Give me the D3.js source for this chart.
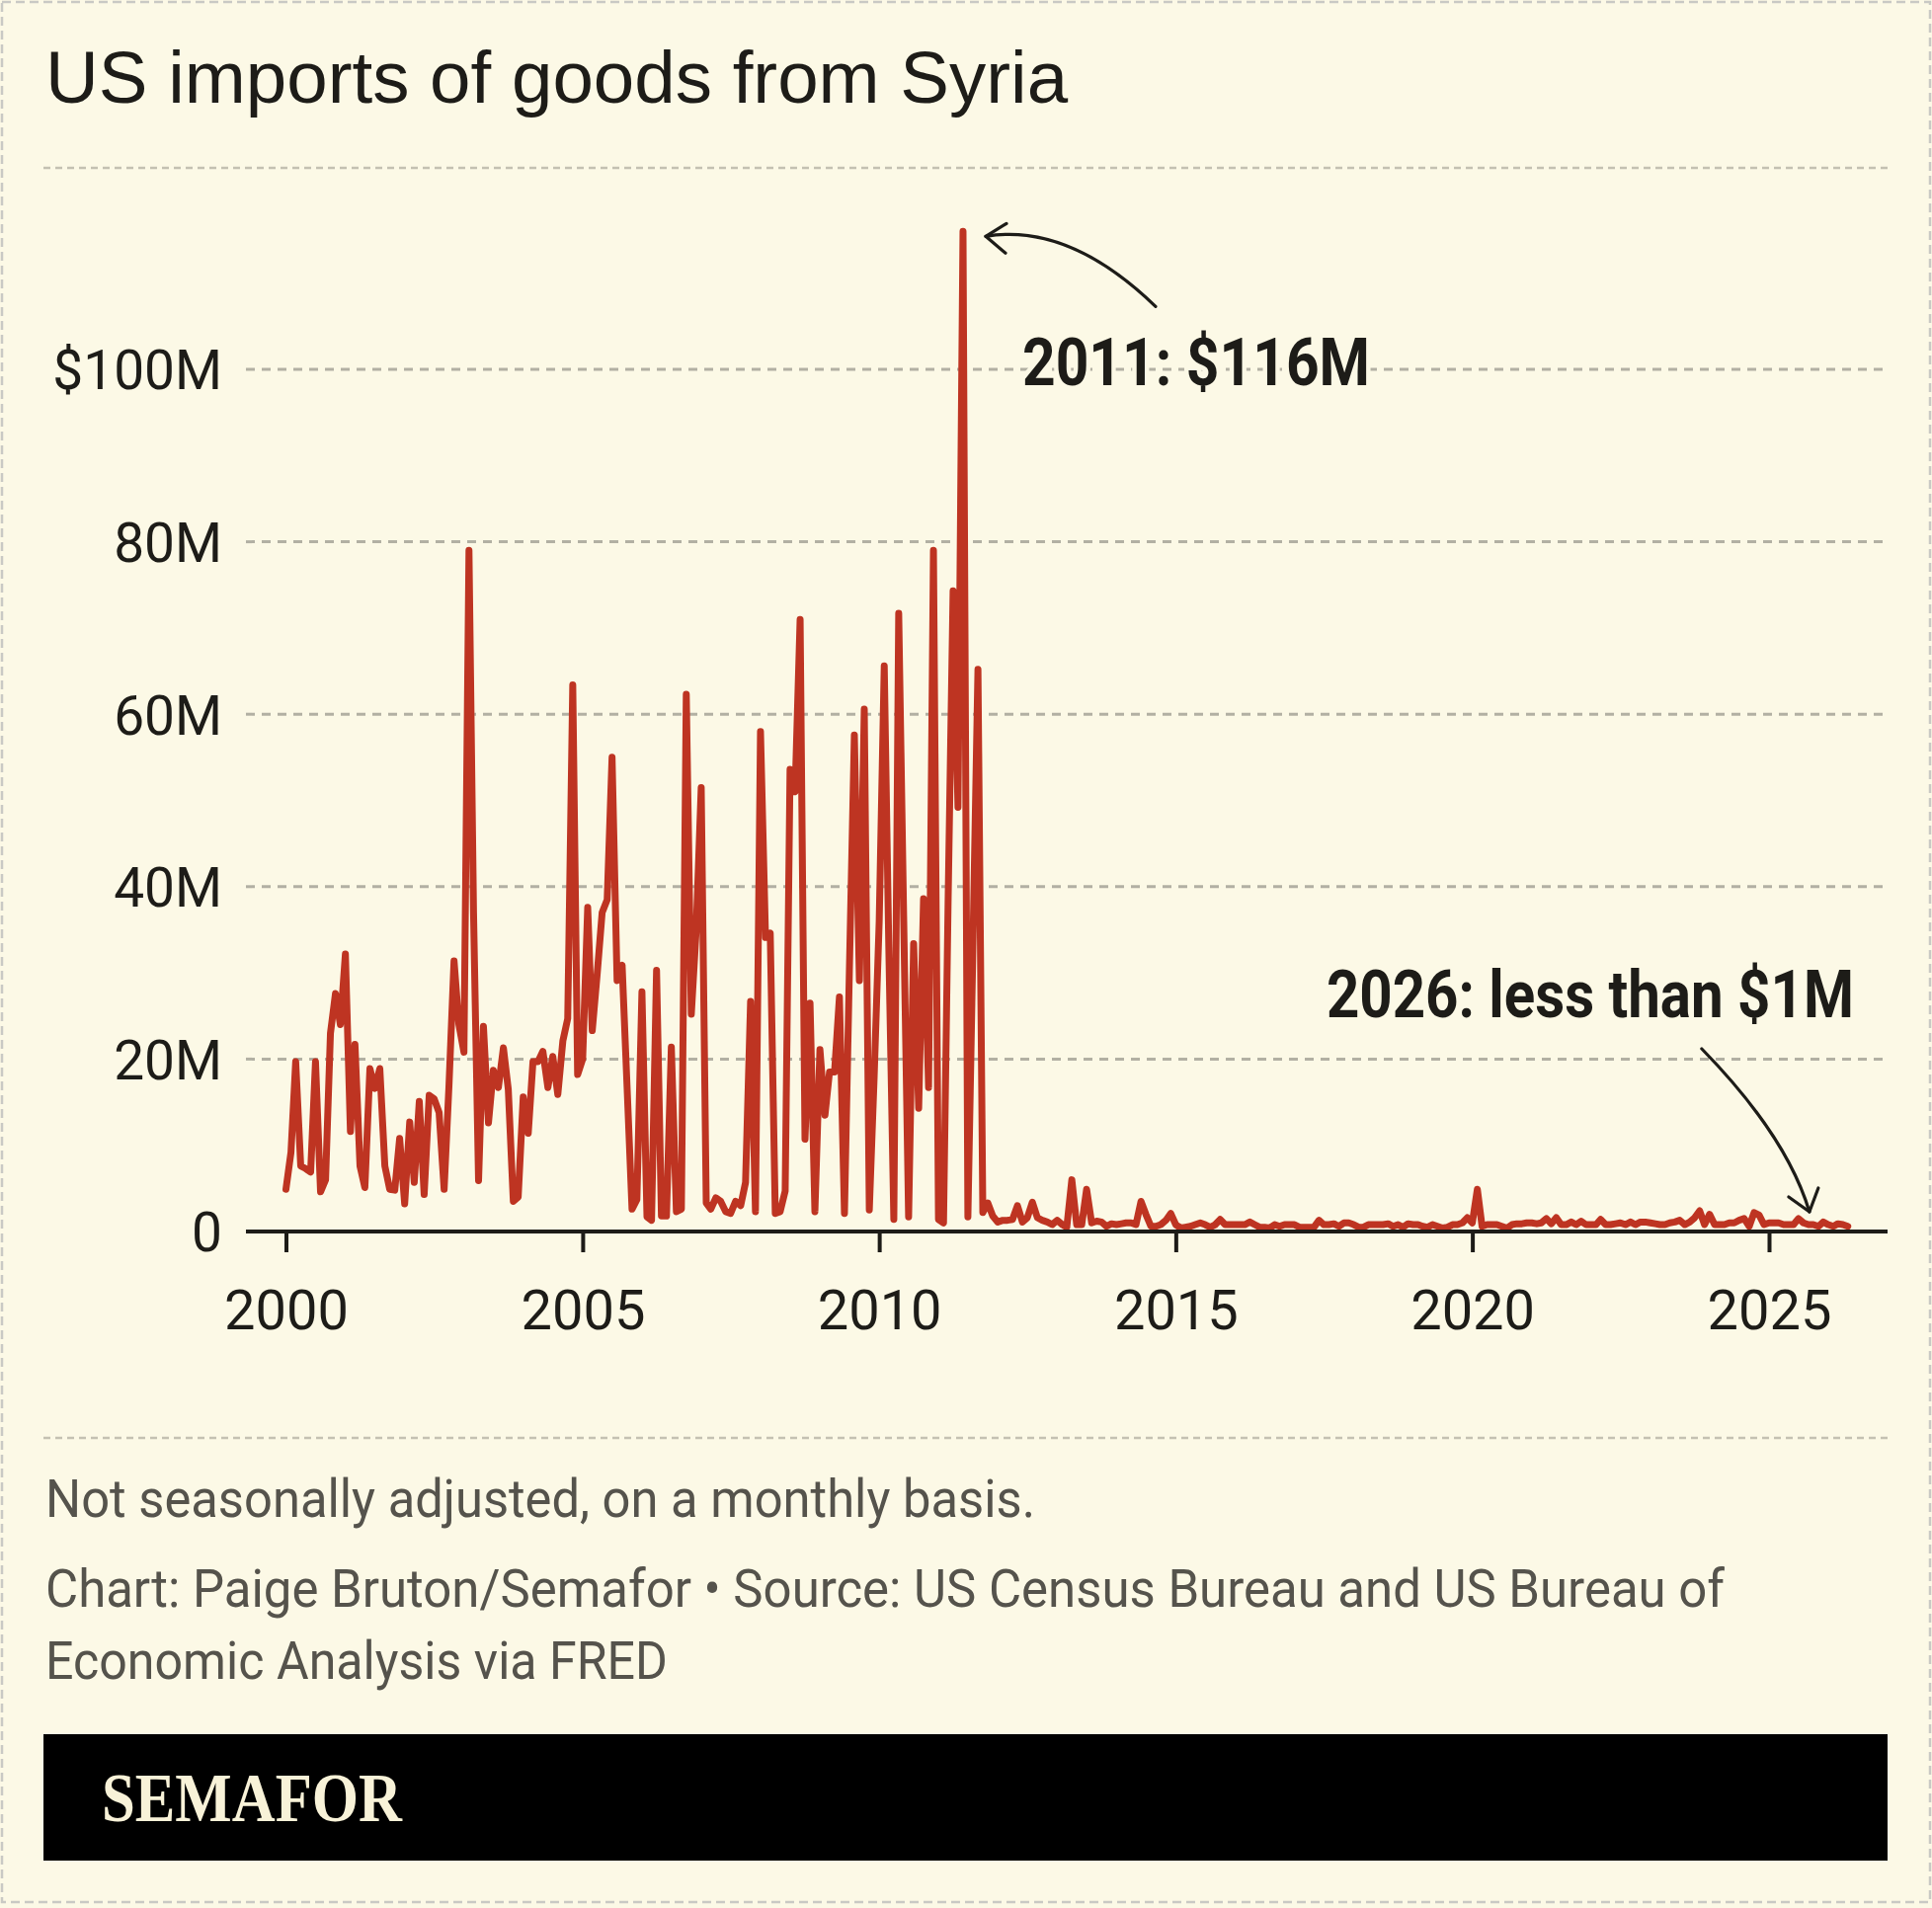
<!DOCTYPE html>
<html>
<head>
<meta charset="utf-8">
<script src="https://cdn.jsdelivr.net/npm/d3@7"></script>
<style>
  html, body { margin: 0; padding: 0; background: #fcf9e6; }
  svg { display: block; }
</style>
</head>
<body>
<div id="chart"></div>
<script>
// US imports of goods from Syria, millions of dollars, one value per month from Jan 2000
const firstMonth = new Date(2000, 0, 1)
const monthlyImports = [
  4.9, 9.2, 19.7, 7.6, 7.3, 6.9, 19.7, 4.6, 6.0, 23.0, 27.6, 24.0,      // 2000
  32.2, 11.6, 21.7, 7.6, 5.1, 18.9, 16.6, 18.9, 7.6, 4.9, 4.8, 10.8,    // 2001
  3.2, 12.7, 5.7, 15.1, 4.3, 15.8, 15.4, 13.8, 4.9, 17.0, 31.4, 24.0,   // 2002
  20.8, 79.0, 37.0, 5.9, 23.8, 12.6, 18.7, 16.7, 21.3, 16.5, 3.5, 4.0,  // 2003
  15.6, 11.4, 19.7, 19.7, 20.9, 16.7, 20.3, 15.9, 22.1, 24.7, 63.4, 18.2, // 2004
  20.0, 37.6, 23.3, 30.0, 37.0, 38.5, 55.0, 29.1, 30.9, 17.0, 2.6, 3.7, // 2005
  27.8, 1.7, 1.3, 30.3, 1.8, 1.8, 21.4, 2.3, 2.6, 62.3, 25.2, 35.0,     // 2006
  51.5, 3.3, 2.6, 3.9, 3.5, 2.3, 2.1, 3.5, 3.0, 5.7, 26.7, 2.3,         // 2007
  58.0, 34.1, 34.6, 2.1, 2.3, 4.7, 53.6, 51.0, 71.0, 10.7, 26.5, 2.3,   // 2008
  21.1, 13.5, 18.5, 18.5, 27.2, 2.1, 30.0, 57.6, 29.1, 60.6, 2.5, 18.0, // 2009
  36.0, 65.6, 33.0, 1.4, 71.7, 36.0, 1.7, 33.4, 14.3, 38.6, 16.7, 79.0, // 2010
  1.4, 1.0, 38.0, 74.3, 49.2, 116.0, 1.7, 33.0, 65.2, 2.2, 3.3, 1.8,    // 2011
  1.1, 1.3, 1.3, 1.4, 3.0, 1.1, 1.6, 3.4, 1.6, 1.3, 1.1, 0.8,           // 2012
  1.3, 0.8, 0.5, 6.0, 0.8, 0.8, 4.9, 1.0, 1.2, 1.1, 0.6, 0.9,           // 2013
  0.8, 0.9, 1.0, 1.0, 0.8, 3.5, 2.0, 0.6, 0.6, 0.8, 1.3, 2.1,           // 2014
  0.8, 0.4, 0.5, 0.6, 0.8, 1.0, 0.8, 0.5, 0.8, 1.4, 0.8, 0.8,           // 2015
  0.8, 0.8, 0.8, 1.1, 0.8, 0.5, 0.5, 0.4, 0.8, 0.6, 0.8, 0.8,           // 2016
  0.8, 0.5, 0.5, 0.5, 0.5, 1.3, 0.8, 0.8, 0.9, 0.6, 1.0, 1.0,           // 2017
  0.8, 0.5, 0.5, 0.8, 0.8, 0.8, 0.8, 0.9, 0.6, 0.8, 0.5, 0.9,           // 2018
  0.8, 0.8, 0.6, 0.5, 0.8, 0.6, 0.4, 0.5, 0.8, 0.8, 1.0, 1.6,           // 2019
  1.0, 4.9, 0.6, 0.8, 0.8, 0.8, 0.6, 0.4, 0.8, 0.9, 0.9, 1.0,           // 2020
  1.0, 0.9, 1.0, 1.5, 0.9, 1.6, 0.8, 0.8, 1.1, 0.8, 1.2, 0.8,           // 2021
  0.8, 0.8, 1.4, 0.8, 0.8, 0.9, 1.0, 0.8, 1.1, 0.8, 1.1, 1.1,           // 2022
  1.0, 0.9, 0.8, 0.8, 1.0, 1.1, 1.3, 0.8, 1.1, 1.6, 2.4, 0.8,           // 2023
  2.0, 0.8, 0.8, 0.8, 1.0, 1.0, 1.3, 1.5, 0.6, 2.2, 1.9, 0.8,           // 2024
  1.0, 1.0, 1.0, 0.8, 0.8, 0.8, 1.5, 1.0, 0.8, 0.8, 0.6, 1.1,           // 2025
  0.8, 0.6, 0.9, 0.8, 0.6                                               // 2026
]

const xTickYears = [2000, 2005, 2010, 2015, 2020, 2025]
const yTickValues = [0, 20, 40, 60, 80, 100]
const yTickLabels = ["0", "20M", "40M", "60M", "80M", "$100M"]

const titleText = "US imports of goods from Syria"
const noteText = "Not seasonally adjusted, on a monthly basis."
const sourceLines = [
  "Chart: Paige Bruton/Semafor \u2022 Source: US Census Bureau and US Bureau of",
  "Economic Analysis via FRED"
]
const peakLabel = "2011: $116M"
const latestLabel = "2026: less than $1M"

const width = 1956
const height = 1932
const bg = "#fcf9e6"
const ink = "#1d1c18"
const red = "#be3422"
const gridColor = "#b2b0a3"
const plotLeft = 249
const plotRight = 1911

const data = monthlyImports.map((v, i) => ({ date: d3.timeMonth.offset(firstMonth, i), value: v }))

const svg = d3.select("#chart")
  .append("svg")
  .attr("width", width)
  .attr("height", height)

svg.append("rect")
  .attr("width", width)
  .attr("height", height)
  .attr("fill", bg)

// dashed outer frame
svg.append("rect")
  .attr("x", 2)
  .attr("y", 2)
  .attr("width", width - 4)
  .attr("height", height - 8)
  .attr("fill", "none")
  .attr("stroke", "#c9c9c4")
  .attr("stroke-width", 2.5)
  .attr("stroke-dasharray", "9,5")

svg.append("text")
  .attr("x", 46)
  .attr("y", 104)
  .attr("font-family", "Liberation Sans, Arial, sans-serif")
  .attr("font-size", 74.5)
  .attr("fill", ink)
  .text(titleText)

// dashed separators above and below the chart
svg.selectAll("line.sep")
  .data([170, 1456])
  .enter()
  .append("line")
  .attr("class", "sep")
  .attr("x1", 44)
  .attr("x2", plotRight)
  .attr("y1", d => d)
  .attr("y2", d => d)
  .attr("stroke", "#c4c1b2")
  .attr("stroke-width", 2.5)
  .attr("stroke-dasharray", "7,5")

const x = d3.scaleTime()
  .domain([new Date(2000, 0, 1), new Date(2025, 0, 1)])
  .range([289.5, 1791])

const y = d3.scaleLinear()
  .domain([0, 100])
  .range([1247, 374])

// gridlines
svg.selectAll("line.grid")
  .data(yTickValues.filter(d => d > 0))
  .enter()
  .append("line")
  .attr("class", "grid")
  .attr("x1", plotLeft)
  .attr("x2", plotRight)
  .attr("y1", d => y(d))
  .attr("y2", d => y(d))
  .attr("stroke", gridColor)
  .attr("stroke-width", 3)
  .attr("stroke-dasharray", "9,7")

// y axis labels
const yAxis = svg.append("g")
  .attr("transform", `translate(${plotLeft},0)`)
  .call(d3.axisLeft(y)
    .tickValues(yTickValues)
    .tickSize(0)
    .tickPadding(24)
    .tickFormat((d, i) => yTickLabels[i]))
yAxis.select(".domain").remove()
yAxis.selectAll("text")
  .attr("font-family", "Roboto, sans-serif")
  .attr("font-size", 55)
  .attr("fill", ink)
  .attr("dy", "0.36em")

// data line
svg.append("path")
  .datum(data)
  .attr("fill", "none")
  .attr("stroke", red)
  .attr("stroke-width", 7)
  .attr("stroke-linejoin", "round")
  .attr("stroke-linecap", "round")
  .attr("d", d3.line().x(d => x(d.date)).y(d => y(d.value)))

// x axis
const xAxis = svg.append("g")
  .attr("transform", `translate(0,${y(0)})`)
  .call(d3.axisBottom(x)
    .tickValues(xTickYears.map(yr => new Date(yr, 0, 1)))
    .tickSize(21)
    .tickPadding(38)
    .tickFormat(d3.timeFormat("%Y")))
xAxis.select(".domain").remove()
xAxis.selectAll(".tick line")
  .attr("stroke", ink)
  .attr("stroke-width", 4)
xAxis.selectAll("text")
  .attr("font-family", "Roboto, sans-serif")
  .attr("font-size", 56)
  .attr("fill", ink)
  .attr("dy", "0.72em")
svg.append("line")
  .attr("x1", plotLeft)
  .attr("x2", plotRight)
  .attr("y1", y(0))
  .attr("y2", y(0))
  .attr("stroke", ink)
  .attr("stroke-width", 4)

// annotations, placed relative to the points they describe
const peak = data.reduce((a, b) => (b.value > a.value ? b : a))
const px = x(peak.date), py = y(peak.value)
const latest = data[data.length - 8]
const lx = x(latest.date), ly = y(0)

function arrow(p0, c, tip, arms) {
  const g = svg.append("g")
    .attr("fill", "none")
    .attr("stroke", ink)
    .attr("stroke-width", 3.2)
    .attr("stroke-linecap", "round")
    .attr("stroke-linejoin", "round")
  g.append("path").attr("d", `M${p0[0]},${p0[1]} Q${c[0]},${c[1]} ${tip[0]},${tip[1]}`)
  g.append("path").attr("d", `M${tip[0] + arms[0][0]},${tip[1] + arms[0][1]} L${tip[0]},${tip[1]} L${tip[0] + arms[1][0]},${tip[1] + arms[1][1]}`)
}

arrow([px + 195, py + 76], [px + 107, py - 9], [px + 23, py + 5], [[21, -13], [20, 17]])
arrow([lx - 113, ly - 185], [lx - 27, ly - 97], [lx - 4, ly - 20], [[-21, -15], [9, -24]])

function annotation(tx, ty, label, len) {
  svg.append("text")
    .attr("x", tx)
    .attr("y", ty)
    .attr("font-family", "Roboto, sans-serif")
    .attr("font-weight", 700)
    .attr("font-size", 67)
    .attr("fill", ink)
    .attr("stroke", bg)
    .attr("stroke-width", 10)
    .attr("paint-order", "stroke")
    .attr("textLength", len)
    .attr("lengthAdjust", "spacingAndGlyphs")
    .text(label)
}
annotation(px + 60, 390, peakLabel, 352)
annotation(lx - 493, 1030, latestLabel, 534)

// footer notes
const footStyle = sel => sel
  .attr("font-family", "Roboto, sans-serif")
  .attr("font-size", 53)
  .attr("fill", "#55534c")
  .attr("lengthAdjust", "spacingAndGlyphs")

svg.append("text")
  .attr("x", 46)
  .attr("y", 1536)
  .attr("textLength", 1002)
  .call(footStyle)
  .text(noteText)

svg.selectAll("text.source")
  .data(sourceLines)
  .enter()
  .append("text")
  .attr("class", "source")
  .attr("x", 46)
  .attr("y", (d, i) => 1627 + i * 73)
  .attr("textLength", (d, i) => [1700, 630][i])
  .call(footStyle)
  .text(d => d)

// logo banner
svg.append("rect")
  .attr("x", 44)
  .attr("y", 1756)
  .attr("width", plotRight - 44)
  .attr("height", 128)
  .attr("fill", "#000")

svg.append("text")
  .attr("x", 103)
  .attr("y", 1844)
  .attr("font-family", "Liberation Serif, serif")
  .attr("font-weight", 700)
  .attr("font-size", 70)
  .attr("fill", "#f8f2d8")
  .attr("textLength", 304)
  .attr("lengthAdjust", "spacingAndGlyphs")
  .text("SEMAFOR")
</script>
</body>
</html>
